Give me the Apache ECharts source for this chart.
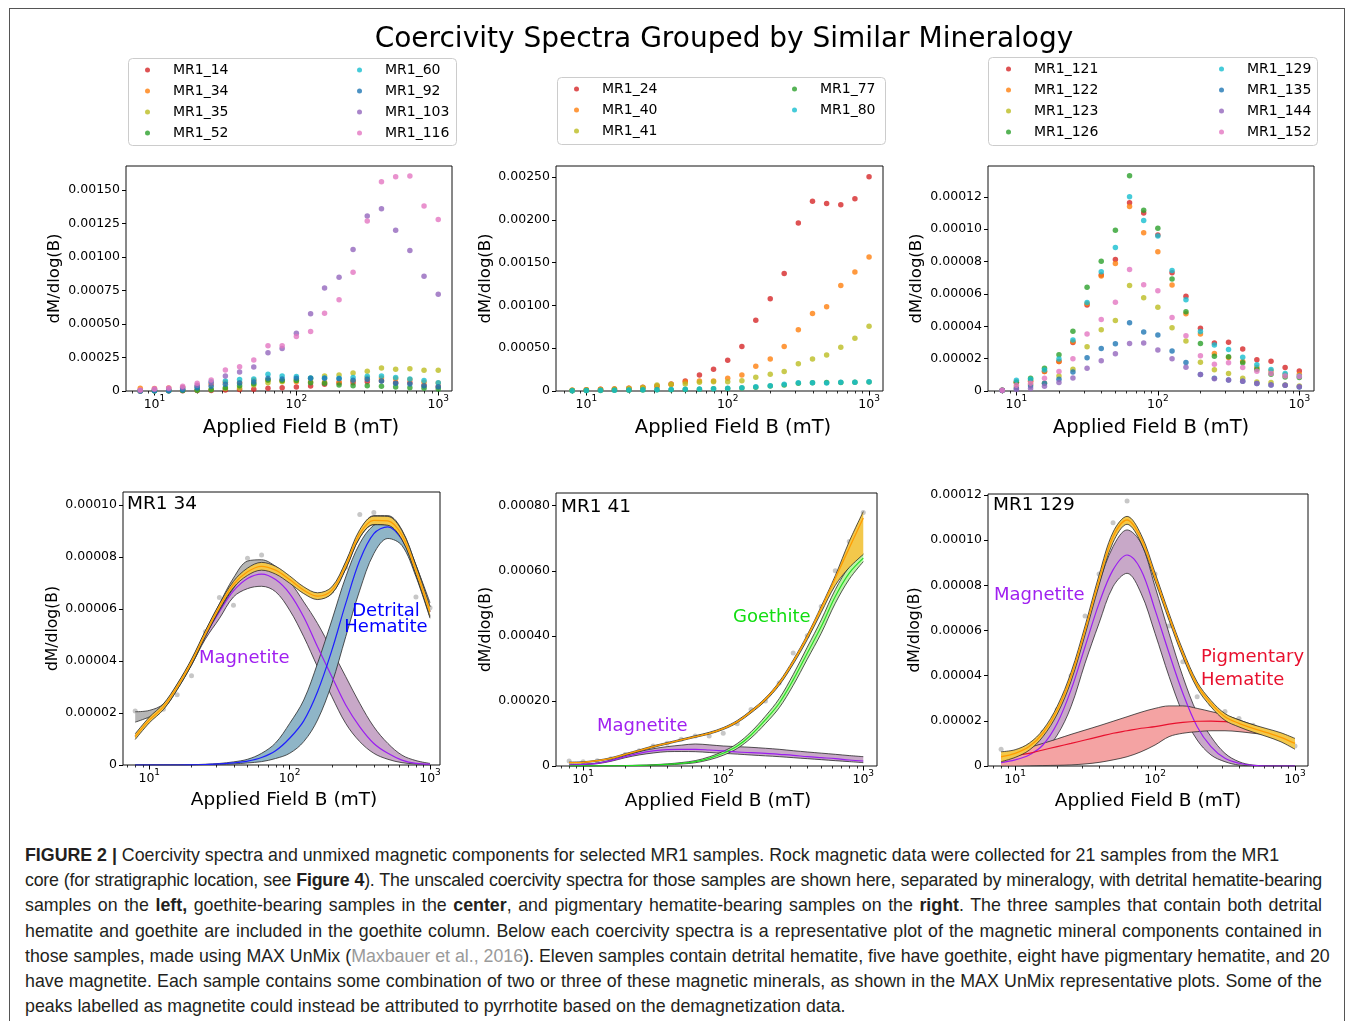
<!DOCTYPE html>
<html>
<head>
<meta charset="utf-8">
<script src="https://cdn.jsdelivr.net/npm/echarts@6/dist/echarts.min.js"></script>
<style>
html,body{margin:0;padding:0;background:#fff;width:1355px;height:1021px;overflow:hidden;}
#frame{position:absolute;left:9px;top:8px;width:1336px;height:1100px;border:1px solid #555;border-bottom:none;box-sizing:border-box;}
#chart{position:absolute;left:0;top:0;width:1355px;height:830px;}
#caption{position:absolute;left:25px;top:843px;width:1297px;font-family:"Liberation Sans",Arial,sans-serif;font-size:17.8px;line-height:25.2px;color:#231f20;letter-spacing:0;}
.ln{white-space:nowrap;text-align:justify;text-align-last:justify;}
.tight{letter-spacing:-0.22px;}
.ll{white-space:nowrap;text-align:left;}
.gr{color:#9a9a9a;}
</style>
</head>
<body>
<div id="frame"></div>
<div id="chart"></div>
<div id="caption">
<div class="ll"><b>FIGURE 2 |</b> Coercivity spectra and unmixed magnetic components for selected MR1 samples. Rock magnetic data were collected for 21 samples from the MR1</div>
<div class="ln tight">core (for stratigraphic location, see <b>Figure 4</b>). The unscaled coercivity spectra for those samples are shown here, separated by mineralogy, with detrital hematite-bearing</div>
<div class="ln">samples on the <b>left,</b> goethite-bearing samples in the <b>center</b>, and pigmentary hematite-bearing samples on the <b>right</b>. The three samples that contain both detrital</div>
<div class="ln">hematite and goethite are included in the goethite column. Below each coercivity spectra is a representative plot of the magnetic mineral components contained in</div>
<div class="ln">those samples, made using MAX UnMix (<span class="gr">Maxbauer et al., 2016</span>). Eleven samples contain detrital hematite, five have goethite, eight have pigmentary hematite, and 20</div>
<div class="ln">have magnetite. Each sample contains some combination of two or three of these magnetic minerals, as shown in the MAX UnMix representative plots. Some of the</div>
<div class="ll">peaks labelled as magnetite could instead be attributed to pyrrhotite based on the demagnetization data.</div>
</div>
<script>
// ---------- DATA ----------
// applied field steps (mT)
const FIELD = [7.94, 10, 12.6, 15.8, 20, 25.1, 31.6, 39.8, 50.1, 63.1, 79.4, 100, 126, 158, 200, 251, 316, 398, 501, 631, 794, 1000];

// top-left: detrital hematite-bearing samples
const MR1_14  = [0.5e-6,1e-6,1.5e-6,2e-6,3e-6,4e-6,8e-6,11e-6,14e-6,20e-6,24e-6,30e-6,38e-6,50e-6,60e-6,62e-6,70e-6,77e-6,62e-6,62e-6,40e-6,32e-6];
const MR1_34  = [20.8e-6,18e-6,21.5e-6,27e-6,34.4e-6,51.3e-6,64.5e-6,61.5e-6,79.6e-6,80.8e-6,74e-6,70e-6,67e-6,65e-6,67e-6,76e-6,96.4e-6,97.2e-6,91.7e-6,86e-6,64.7e-6,60.5e-6];
const MR1_35  = [0.5e-6,2e-6,3e-6,5e-6,8e-6,12e-6,18e-6,22e-6,45e-6,62e-6,70e-6,82e-6,95e-6,112e-6,120e-6,135e-6,147e-6,172e-6,162e-6,167e-6,155e-6,155e-6];
const MR1_52  = [0.3e-6,1e-6,2e-6,3e-6,5e-6,10e-6,25e-6,40e-6,55e-6,82e-6,78e-6,78e-6,62e-6,57e-6,45e-6,40e-6,40e-6,35e-6,30e-6,25e-6,20e-6,15e-6];
const MR1_60  = [0.5e-6,2e-6,3e-6,15e-6,32e-6,70e-6,75e-6,85e-6,90e-6,125e-6,112e-6,108e-6,98e-6,98e-6,95e-6,100e-6,110e-6,112e-6,100e-6,90e-6,78e-6,62e-6];
const MR1_92  = [0.3e-6,1e-6,2e-6,8e-6,22e-6,35e-6,50e-6,60e-6,68e-6,95e-6,90e-6,95e-6,95e-6,95e-6,92e-6,80e-6,88e-6,75e-6,58e-6,52e-6,40e-6,32e-6];
const MR1_103 = [2.5e-6,12.5e-6,17.5e-6,25e-6,42.5e-6,62.5e-6,112e-6,142e-6,180e-6,285e-6,317e-6,432e-6,577e-6,770e-6,850e-6,1057e-6,1307e-6,1360e-6,1200e-6,1050e-6,857e-6,722e-6];
const MR1_116 = [7.5e-6,17.5e-6,22.5e-6,35e-6,57.5e-6,82.5e-6,157e-6,182e-6,232e-6,337e-6,337e-6,407e-6,445e-6,580e-6,682e-6,887e-6,1270e-6,1562e-6,1600e-6,1605e-6,1382e-6,1280e-6];

// top-middle: goethite-bearing samples
const MR1_24 = [8e-6,16e-6,19e-6,23e-6,31e-6,43e-6,58e-6,82e-6,117e-6,187e-6,253e-6,358e-6,521e-6,825e-6,1078e-6,1373e-6,1961e-6,2217e-6,2190e-6,2175e-6,2245e-6,2501e-6];
const MR1_40 = [8e-6,16e-6,19e-6,23e-6,31e-6,40e-6,55e-6,75e-6,105e-6,117e-6,117e-6,148e-6,187e-6,288e-6,373e-6,521e-6,716e-6,906e-6,984e-6,1233e-6,1389e-6,1564e-6];
const MR1_41 = [8e-6,12e-6,15e-6,20e-6,30e-6,40e-6,70e-6,78e-6,82e-6,101e-6,109e-6,109e-6,121e-6,160e-6,195e-6,229e-6,318e-6,373e-6,420e-6,510e-6,615e-6,755e-6];
const MR1_77 = [3e-6,5e-6,6e-6,8e-6,10e-6,12e-6,14e-6,16e-6,18e-6,21e-6,25e-6,30e-6,36e-6,45e-6,58e-6,70e-6,90e-6,95e-6,98e-6,100e-6,103e-6,105e-6];
const MR1_80 = [4e-6,6e-6,8e-6,10e-6,12e-6,14e-6,16e-6,18e-6,20e-6,23e-6,27e-6,31e-6,39e-6,51e-6,62e-6,78e-6,97e-6,97e-6,93e-6,101e-6,101e-6,109e-6];

// top-right: pigmentary hematite-bearing samples
const MR1_121 = [0.5e-6,5.6e-6,6.2e-6,12.0e-6,18.2e-6,29.9e-6,53.1e-6,71.7e-6,81.3e-6,116.3e-6,109.9e-6,96.4e-6,73.0e-6,58.5e-6,38.8e-6,29.6e-6,30.1e-6,25.9e-6,19.3e-6,18.4e-6,14.5e-6,12.4e-6];
const MR1_122 = [0.5e-6,5.2e-6,6.0e-6,12.0e-6,18.2e-6,30.5e-6,53.9e-6,71.0e-6,78.8e-6,114.0e-6,97.8e-6,86.0e-6,65.5e-6,47.7e-6,35.2e-6,23.2e-6,20.7e-6,18.2e-6,14.5e-6,12.4e-6,10.0e-6,10.4e-6];
const MR1_123 = [0.3e-6,2.5e-6,4.0e-6,4.8e-6,9.3e-6,13.5e-6,27.4e-6,37.9e-6,43.5e-6,65.1e-6,57.6e-6,51.8e-6,39.0e-6,30.9e-6,17.8e-6,13.1e-6,10.8e-6,7.9e-6,5.6e-6,5.2e-6,3.7e-6,3.1e-6];
const MR1_126 = [0.5e-6,5.2e-6,7.9e-6,14.1e-6,22.4e-6,36.9e-6,64.1e-6,80.2e-6,99.3e-6,132.9e-6,111.7e-6,100.5e-6,69.2e-6,48.9e-6,29.4e-6,21.4e-6,21.1e-6,17.4e-6,13.5e-6,10.4e-6,8.7e-6,8.3e-6];
const MR1_129 = [0.5e-6,6.6e-6,7.3e-6,12.9e-6,19.7e-6,31.5e-6,54.7e-6,73.6e-6,88.7e-6,120.0e-6,105.3e-6,95.8e-6,74.4e-6,56.4e-6,36.7e-6,28.4e-6,25.7e-6,20.9e-6,16.2e-6,13.3e-6,10.8e-6,9.3e-6];
const MR1_135 = [0.3e-6,1.5e-6,3.1e-6,4.8e-6,7.3e-6,11.8e-6,20.5e-6,26.3e-6,29.2e-6,42.1e-6,36.5e-6,34.6e-6,24.7e-6,17.6e-6,10.2e-6,7.9e-6,6.8e-6,6.0e-6,4.6e-6,3.7e-6,3.5e-6,2.5e-6];
const MR1_144 = [0.3e-6,1.0e-6,1.5e-6,2.9e-6,5.2e-6,8.1e-6,14.1e-6,18.7e-6,23.0e-6,29.4e-6,29.6e-6,25.3e-6,19.9e-6,14.7e-6,10.2e-6,7.5e-6,6.8e-6,6.0e-6,4.6e-6,3.7e-6,3.5e-6,2.7e-6];
const MR1_152 = [0.5e-6,3.5e-6,4.8e-6,7.9e-6,12.0e-6,19.9e-6,35.2e-6,44.2e-6,54.9e-6,75.0e-6,65.7e-6,62.0e-6,45.4e-6,34.2e-6,21.8e-6,16.6e-6,17.4e-6,14.5e-6,12.2e-6,10.8e-6,9.3e-6,8.9e-6];

// bottom-left: MAX UnMix of MR1 34
const U34_TOTAL    = [10.9e-6,17.3e-6,22.4e-6,30.1e-6,39.7e-6,50.6e-6,60.9e-6,69.5e-6,74.4e-6,76.5e-6,75.0e-6,71.4e-6,67.3e-6,65.0e-6,67.3e-6,76.9e-6,89.1e-6,94.2e-6,94.0e-6,88.5e-6,75.0e-6,59.0e-6];
const U34_TOTAL_HI = [12.0e-6,18.4e-6,23.5e-6,31.2e-6,40.8e-6,51.7e-6,62.0e-6,70.7e-6,75.8e-6,78.0e-6,76.5e-6,72.8e-6,68.6e-6,66.3e-6,68.6e-6,78.3e-6,90.6e-6,95.8e-6,95.7e-6,90.2e-6,76.8e-6,61.0e-6];
const U34_TOTAL_LO = [9.8e-6,16.2e-6,21.3e-6,29.0e-6,38.6e-6,49.5e-6,59.8e-6,68.3e-6,73.0e-6,75.0e-6,73.5e-6,70.0e-6,66.0e-6,63.7e-6,66.0e-6,75.5e-6,87.6e-6,92.6e-6,92.3e-6,86.8e-6,73.2e-6,57.0e-6];
const U34_DATA_HI  = [20.5e-6,21.0e-6,23.5e-6,31.0e-6,40.5e-6,51.5e-6,62.0e-6,72.0e-6,78.5e-6,79.0e-6,76.5e-6,72.0e-6,68.0e-6,66.0e-6,68.0e-6,78.0e-6,90.0e-6,96.0e-6,96.0e-6,90.5e-6,77.0e-6,62.5e-6];
const U34_DATA_LO  = [16.5e-6,18.5e-6,21.5e-6,29.0e-6,38.5e-6,49.5e-6,59.5e-6,68.0e-6,74.0e-6,75.5e-6,74.0e-6,70.5e-6,66.5e-6,64.0e-6,66.0e-6,75.5e-6,87.5e-6,92.5e-6,92.5e-6,87.0e-6,73.5e-6,57.5e-6];
const U34_MAG      = [10.9e-6,17.3e-6,22.4e-6,30.0e-6,39.4e-6,49.8e-6,59.0e-6,67.0e-6,71.8e-6,73.5e-6,71.4e-6,66.0e-6,57.0e-6,45.5e-6,34.0e-6,23.1e-6,14.7e-6,8.3e-6,4.5e-6,1.9e-6,0.6e-6,0.3e-6];
const U34_MAG_HI   = [11.4e-6,17.8e-6,22.9e-6,30.6e-6,40.2e-6,51.0e-6,61.5e-6,70.2e-6,75.0e-6,76.0e-6,74.7e-6,70.5e-6,62.8e-6,54.5e-6,44.2e-6,34.0e-6,23.7e-6,14.7e-6,8.3e-6,3.8e-6,1.7e-6,0.6e-6];
const U34_MAG_LO   = [10.4e-6,16.8e-6,21.9e-6,29.4e-6,38.5e-6,48.5e-6,56.4e-6,64.7e-6,67.9e-6,68.8e-6,66.7e-6,59.6e-6,49.4e-6,37.8e-6,26.3e-6,16.0e-6,9.0e-6,4.5e-6,2.2e-6,0.9e-6,0.4e-6,0.1e-6];
const U34_HEM      = [0,0,0,0,0.05e-6,0.2e-6,0.4e-6,0.8e-6,1.5e-6,2.9e-6,5.5e-6,10.3e-6,17.0e-6,28.2e-6,44.2e-6,62.2e-6,78.8e-6,89.1e-6,91.7e-6,86.8e-6,75.3e-6,59.0e-6];
const U34_HEM_HI   = [0,0,0,0,0.1e-6,0.3e-6,0.6e-6,1.2e-6,2.2e-6,4.5e-6,8.5e-6,16.0e-6,25.0e-6,39.1e-6,55.8e-6,72.4e-6,85.3e-6,92.3e-6,93.6e-6,88.5e-6,76.9e-6,61.0e-6];
const U34_HEM_LO   = [0,0,0,0,0,0.1e-6,0.2e-6,0.4e-6,0.8e-6,1.3e-6,2.5e-6,4.5e-6,9.0e-6,17.3e-6,31.4e-6,49.4e-6,67.3e-6,81.4e-6,87.2e-6,84.5e-6,72.5e-6,56.5e-6];

// bottom-middle: MAX UnMix of MR1 41
const U41_POINTS   = [15.4e-6,13.3e-6,16.4e-6,22e-6,35e-6,47.2e-6,61.5e-6,70e-6,82e-6,92.3e-6,92.3e-6,100.5e-6,130e-6,174e-6,200e-6,255e-6,347e-6,400e-6,490e-6,600e-6,690e-6,779e-6];
const U41_TOTAL    = [10.3e-6,11.3e-6,16.4e-6,23.6e-6,35.9e-6,47.2e-6,59.5e-6,69.7e-6,80.0e-6,90.3e-6,100.5e-6,114.9e-6,136.4e-6,167.2e-6,205.1e-6,254.3e-6,321.0e-6,398.0e-6,485.0e-6,577.0e-6,670.0e-6,762.0e-6];
const U41_TOTAL_HI = [12e-6,13e-6,18e-6,25.5e-6,38e-6,49.5e-6,62e-6,72e-6,82.5e-6,93e-6,103.5e-6,118e-6,140e-6,171e-6,209e-6,259e-6,326e-6,403e-6,491e-6,585e-6,690e-6,782e-6];
const U41_TOTAL_LO = [9e-6,10e-6,15e-6,22e-6,34e-6,45e-6,57e-6,67.5e-6,77.5e-6,88e-6,98e-6,112e-6,133e-6,163e-6,200e-6,248e-6,313e-6,388e-6,472e-6,555e-6,610e-6,650e-6];
const U41_GOE      = [0,0.2e-6,0.4e-6,0.6e-6,1.0e-6,1.8e-6,3.0e-6,5.0e-6,8.2e-6,13.3e-6,23.6e-6,39.0e-6,61.5e-6,95.4e-6,141.5e-6,192.8e-6,264.6e-6,346.7e-6,428.7e-6,521.0e-6,592.8e-6,639.0e-6];
const U41_GOE_HI   = [0,0.3e-6,0.6e-6,1e-6,1.5e-6,2.5e-6,4e-6,6.5e-6,10.5e-6,16.5e-6,28e-6,45e-6,69e-6,105e-6,153e-6,207e-6,281e-6,365e-6,449e-6,542e-6,612e-6,652e-6];
const U41_GOE_LO   = [0,0.1e-6,0.2e-6,0.3e-6,0.6e-6,1.2e-6,2e-6,3.6e-6,6e-6,10e-6,19e-6,33e-6,54e-6,86e-6,130e-6,179e-6,248e-6,328e-6,408e-6,500e-6,574e-6,628e-6];
const U41_MAG      = [3.0e-6,5.0e-6,8.2e-6,16.4e-6,28.7e-6,39.0e-6,46.2e-6,50.3e-6,51.3e-6,51.3e-6,49.2e-6,46.2e-6,43.1e-6,41.0e-6,39.0e-6,35.9e-6,32.8e-6,28.7e-6,25.6e-6,22.6e-6,18.5e-6,15.4e-6];
const U41_MAG_HI   = [3.5e-6,5.8e-6,9.5e-6,18.5e-6,32e-6,44e-6,53e-6,59.5e-6,64e-6,67.7e-6,65e-6,61.5e-6,59.5e-6,57.4e-6,54.5e-6,51.3e-6,47e-6,43.1e-6,39.5e-6,35.9e-6,32e-6,28.7e-6];
const U41_MAG_LO   = [2.5e-6,4.2e-6,7e-6,14.5e-6,25.5e-6,34e-6,40e-6,44.1e-6,44.5e-6,44.1e-6,41.5e-6,39e-6,36.5e-6,33.8e-6,31.2e-6,28.7e-6,25.6e-6,22.6e-6,19.5e-6,16.4e-6,13.5e-6,10.3e-6];

// bottom-right: MAX UnMix of MR1 129
const U129_POINTS   = [7.4e-6,6e-6,9e-6,15e-6,25e-6,40e-6,66.4e-6,85e-6,107.7e-6,117.3e-6,100e-6,85e-6,62e-6,46.2e-6,30.7e-6,27.3e-6,24.1e-6,21e-6,18e-6,15e-6,12e-6,8.9e-6];
const U129_TOTAL    = [4.1e-6,5.6e-6,8.6e-6,14.5e-6,24.8e-6,39.6e-6,60.2e-6,82.4e-6,101.5e-6,108.9e-6,100.8e-6,83.8e-6,66.1e-6,49.9e-6,35.9e-6,27.7e-6,21.8e-6,18.9e-6,16.7e-6,14.8e-6,12.7e-6,10.0e-6];
const U129_TOTAL_HI = [6.3e-6,7.2e-6,10.1e-6,16.0e-6,26.5e-6,41.5e-6,62.0e-6,84.5e-6,103.5e-6,110.5e-6,102.5e-6,85.5e-6,67.5e-6,51.3e-6,37.2e-6,29.0e-6,23.2e-6,20.4e-6,18.3e-6,16.5e-6,14.7e-6,12.2e-6];
const U129_TOTAL_LO = [1.9e-6,3.8e-6,7.0e-6,13.0e-6,23.0e-6,37.5e-6,58.0e-6,80.0e-6,99.0e-6,107.0e-6,98.8e-6,81.8e-6,64.4e-6,48.3e-6,34.4e-6,26.2e-6,20.2e-6,17.3e-6,15.0e-6,13.0e-6,10.7e-6,7.4e-6];
const U129_MAG      = [1.5e-6,2.7e-6,4.9e-6,9.3e-6,18.9e-6,33.7e-6,52.8e-6,72.0e-6,86.8e-6,93.4e-6,86.8e-6,69.1e-6,49.9e-6,32.2e-6,17.4e-6,8.6e-6,3.4e-6,1.2e-6,0.3e-6,0,0,0];
const U129_MAG_HI   = [2.0e-6,4.0e-6,7.0e-6,13.7e-6,24.8e-6,40.3e-6,60.2e-6,80.9e-6,97.1e-6,104.5e-6,98.6e-6,79.4e-6,58.7e-6,39.6e-6,23.3e-6,13.0e-6,5.6e-6,1.9e-6,0.4e-6,0.1e-6,0,0];
const U129_MAG_LO   = [1.0e-6,1.9e-6,3.5e-6,6.3e-6,13.7e-6,26.3e-6,45.5e-6,63.2e-6,79.4e-6,85.3e-6,76.5e-6,58.7e-6,39.6e-6,23.3e-6,11.5e-6,4.9e-6,1.9e-6,0.4e-6,0.1e-6,0,0,0];
const U129_HEM      = [3.4e-6,4.6e-6,5.6e-6,7.1e-6,8.6e-6,10.0e-6,11.5e-6,13.0e-6,14.5e-6,15.6e-6,16.7e-6,17.4e-6,18.5e-6,19.3e-6,19.8e-6,19.9e-6,19.6e-6,18.9e-6,16.7e-6,14.8e-6,12.7e-6,10.0e-6];
const U129_HEM_HI   = [4.9e-6,6.5e-6,8.2e-6,10.0e-6,12.0e-6,14.0e-6,15.9e-6,17.8e-6,19.8e-6,21.8e-6,23.8e-6,25.5e-6,26.6e-6,26.6e-6,25.5e-6,24.1e-6,22.6e-6,20.4e-6,18.2e-6,15.9e-6,13.5e-6,11.0e-6];
const U129_HEM_LO   = [0,0,0.1e-6,0.2e-6,0.3e-6,0.5e-6,0.9e-6,1.6e-6,2.7e-6,4.1e-6,6.3e-6,9.3e-6,13.0e-6,14.5e-6,15.2e-6,15.6e-6,15.6e-6,15.2e-6,14.5e-6,13.7e-6,12.0e-6,9.0e-6];

// tick labels
const X_MAJOR = [10, 100, 1000];
const X_MINOR = [7, 8, 9, 20, 30, 40, 50, 60, 70, 80, 90, 200, 300, 400, 500, 600, 700, 800, 900];
const Y_TICKS = [
  [0, 0.00025, 0.0005, 0.00075, 0.001, 0.00125, 0.0015],
  [0, 0.0005, 0.001, 0.0015, 0.002, 0.0025],
  [0, 0.00002, 0.00004, 0.00006, 0.00008, 0.0001, 0.00012],
  [0, 0.00002, 0.00004, 0.00006, 0.00008, 0.0001],
  [0, 0.0002, 0.0004, 0.0006, 0.0008],
  [0, 0.00002, 0.00004, 0.00006, 0.00008, 0.0001, 0.00012]
];

// ---------- LAYOUT ----------
const FONT = 'DejaVu Sans';
const GRIDS = [
  {left:126, top:166, width:326, height:225},
  {left:556, top:166, width:327, height:225},
  {left:988, top:166, width:326, height:225},
  {left:123, top:492, width:317, height:273},
  {left:556, top:493, width:321, height:273},
  {left:988, top:494, width:320, height:272}
];
const X_RANGE = [[6.3,1250],[6.1,1255],[6.3,1270],[6.5,1178],[6.4,1253],[6.4,1239]];
const Y_MAX = [0.00168, 0.002628, 0.000139, 0.0001051, 0.000839, 0.0001204];
const Y_NAMEGAP = [63, 61, 63, 60, 60, 65];
const X_NAMEGAP = [27, 27, 27, 26, 26, 26];
const X_NAMESIZE = [19.5, 19.5, 19.5, 18.5, 18.5, 18.5];
const X_NAMEPAD = [[0,0,0,24],[0,0,0,27],[0,0,0,0],[0,0,0,5],[0,0,0,3],[0,0,0,0]];
const Y_NAMESIZE = [16.5, 16.5, 16.5, 15.6, 15.6, 15.6];

const xAxes = [], yAxes = [];
GRIDS.forEach((g, i) => {
  xAxes.push({
    type:'log', logBase:10, gridIndex:i, position:'bottom', min:X_RANGE[i][0], max:X_RANGE[i][1],
    axisLine:{show:false}, splitLine:{show:false},
    axisTick:{show:true, inside:false, length:4.5, customValues:X_MAJOR, lineStyle:{color:'#000', width:1}},
    axisLabel:{show:true, customValues:X_MAJOR, margin:3, color:'#000',
      formatter: v => '{b|10}{s|' + Math.round(Math.log10(v)) + '}',
      rich:{
        b:{fontSize:12.5, fontFamily:FONT, color:'#000', lineHeight:17, verticalAlign:'bottom'},
        s:{fontSize:9, fontFamily:FONT, color:'#000', lineHeight:10, verticalAlign:'top'}
      }},
    name:'Applied Field B (mT)', nameLocation:'middle', nameGap:X_NAMEGAP[i],
    nameTextStyle:{fontSize:X_NAMESIZE[i], fontFamily:FONT, color:'#000', padding:X_NAMEPAD[i]}
  });
  xAxes.push({
    type:'log', logBase:10, gridIndex:i, position:'bottom', min:X_RANGE[i][0], max:X_RANGE[i][1],
    axisLine:{show:false}, splitLine:{show:false}, axisLabel:{show:false},
    axisTick:{show:true, inside:false, length:2.5, customValues:X_MINOR, lineStyle:{color:'#000', width:0.8}}
  });
  yAxes.push({
    type:'value', gridIndex:i, min:0, max:Y_MAX[i],
    axisLine:{show:false}, splitLine:{show:false},
    axisTick:{show:true, length:4, customValues:Y_TICKS[i], lineStyle:{color:'#000', width:1}},
    axisLabel:{customValues:Y_TICKS[i], margin:6, fontSize:12.5, fontFamily:FONT, color:'#000',
      formatter: v => (Math.abs(v) < 1e-12 ? '0' : v.toFixed(5))},
    name:'dM/dlog(B)', nameLocation:'middle', nameGap:Y_NAMEGAP[i], nameRotate:90,
    nameTextStyle:{fontSize:Y_NAMESIZE[i], fontFamily:FONT, color:'#000'}
  });
});

// ---------- SERIES BUILDERS ----------
const pairs = vals => FIELD.map((x, k) => [x, vals[k]]);
// value-first pairs so that stacking acts on the y value (x is a log value axis)
const vpairs = vals => FIELD.map((x, k) => [vals[k], x]);

function scatter(gi, name, color, vals) {
  return {type:'scatter', name, xAxisIndex:gi*2, yAxisIndex:gi, data:pairs(vals),
    symbol:'circle', symbolSize:5.5, itemStyle:{color}, z:3, silent:true};
}
function points(gi, vals) {
  return {type:'scatter', xAxisIndex:gi*2, yAxisIndex:gi, data:pairs(vals),
    symbol:'circle', symbolSize:5, itemStyle:{color:'#b9b9b9'}, z:1, silent:true};
}
function band(gi, id, lo, hi, fill, z) {
  const diff = hi.map((h, k) => h - lo[k]);
  const common = {type:'line', xAxisIndex:gi*2, yAxisIndex:gi, stack:id, stackStrategy:'all',
    encode:{x:1, y:0}, smooth:0.35, symbol:'none', silent:true};
  return [
    Object.assign({}, common, {data:vpairs(lo), lineStyle:{color:'#2a2a2a', width:0.8}, z:z+1}),
    Object.assign({}, common, {data:vpairs(diff), lineStyle:{color:'#2a2a2a', width:0.8},
      areaStyle:{color:fill, opacity:1}, z:z})
  ];
}
function curve(gi, vals, color, width, z) {
  return {type:'line', xAxisIndex:gi*2, yAxisIndex:gi, data:pairs(vals), smooth:0.35,
    symbol:'none', lineStyle:{color, width}, z, silent:true};
}

const C = {red:'#d62728', orange:'#ff7f0e', olive:'#bcbd22', green:'#2ca02c', cyan:'#17becf',
           blue:'#1f77b4', purple:'#9467bd', pink:'#e377c2'};
const FILL = {mag:'#c8a8c8', hem:'#8fb5c7', goe:'#baf4a6', pig:'#f4a3a3', tot:'#f3c84b', dat:'#b6b6b6'};
const LINE = {mag:'#9b1ef0', hem:'#1f1fff', goe:'#22dd22', pig:'#e8102e', tot:'#ff9c00'};

const series = [
  scatter(0,'MR1_14',C.red,MR1_14), scatter(0,'MR1_34',C.orange,MR1_34), scatter(0,'MR1_35',C.olive,MR1_35),
  scatter(0,'MR1_52',C.green,MR1_52), scatter(0,'MR1_60',C.cyan,MR1_60), scatter(0,'MR1_92',C.blue,MR1_92),
  scatter(0,'MR1_103',C.purple,MR1_103), scatter(0,'MR1_116',C.pink,MR1_116),

  scatter(1,'MR1_24',C.red,MR1_24), scatter(1,'MR1_40',C.orange,MR1_40), scatter(1,'MR1_41',C.olive,MR1_41),
  scatter(1,'MR1_77',C.green,MR1_77), scatter(1,'MR1_80',C.cyan,MR1_80),

  scatter(2,'MR1_121',C.red,MR1_121), scatter(2,'MR1_122',C.orange,MR1_122), scatter(2,'MR1_123',C.olive,MR1_123),
  scatter(2,'MR1_126',C.green,MR1_126), scatter(2,'MR1_129',C.cyan,MR1_129), scatter(2,'MR1_135',C.blue,MR1_135),
  scatter(2,'MR1_144',C.purple,MR1_144), scatter(2,'MR1_152',C.pink,MR1_152),

  // MR1 34 unmixing
  points(3, MR1_34),
  ...band(3,'m34',U34_MAG_LO,U34_MAG_HI,FILL.mag,2),
  ...band(3,'h34',U34_HEM_LO,U34_HEM_HI,FILL.hem,4),
  curve(3,U34_MAG,LINE.mag,1.2,6),
  curve(3,U34_HEM,LINE.hem,1.2,6),
  ...band(3,'d34',U34_DATA_LO,U34_DATA_HI,FILL.dat,8),
  ...band(3,'t34',U34_TOTAL_LO,U34_TOTAL_HI,FILL.tot,10),
  curve(3,U34_TOTAL,LINE.tot,1.3,12),

  // MR1 41 unmixing
  points(4, U41_POINTS),
  ...band(4,'m41',U41_MAG_LO,U41_MAG_HI,FILL.mag,2),
  ...band(4,'g41',U41_GOE_LO,U41_GOE_HI,FILL.goe,4),
  curve(4,U41_MAG,LINE.mag,1.2,6),
  curve(4,U41_GOE,LINE.goe,1.2,6),
  ...band(4,'t41',U41_TOTAL_LO,U41_TOTAL_HI,FILL.tot,10),
  curve(4,U41_TOTAL,LINE.tot,1.3,12),

  // MR1 129 unmixing
  points(5, U129_POINTS),
  ...band(5,'m129',U129_MAG_LO,U129_MAG_HI,FILL.mag,2),
  ...band(5,'p129',U129_HEM_LO,U129_HEM_HI,FILL.pig,4),
  curve(5,U129_MAG,LINE.mag,1.2,6),
  curve(5,U129_HEM,LINE.pig,1.2,6),
  ...band(5,'t129',U129_TOTAL_LO,U129_TOTAL_HI,FILL.tot,10),
  curve(5,U129_TOTAL,LINE.tot,1.3,12)
];

function legendCol(left, top, data) {
  return {show:true, orient:'vertical', left, top, data, icon:'circle', itemWidth:5, itemHeight:5,
    itemGap:5, padding:0, selectedMode:false, z:5,
    textStyle:{fontSize:14, fontFamily:FONT, color:'#000', lineHeight:16, padding:[0,0,0,18]}};
}

function txt(text, x, y, color, align, size) {
  return {type:'text', z:100, silent:true,
    style:{text, x, y, fill:color, align:align||'left', verticalAlign:'middle',
      textAlign:align||'left', textVerticalAlign:'middle', font:(size||18)+'px "DejaVu Sans"'}};
}
function box(x, y, w, h) {
  return {type:'rect', z:0, silent:true, shape:{x:x+0.5, y:y+0.5, width:w, height:h, r:4},
    style:{fill:'#ffffff', stroke:'#cccccc', lineWidth:1}};
}

const option = {
  animation:false,
  backgroundColor:'transparent',
  textStyle:{fontFamily:FONT},
  grid: GRIDS.map(g => Object.assign({show:true, borderColor:'#111', borderWidth:1,
    backgroundColor:'transparent', containLabel:false, outerBoundsMode:'none'}, g)),
  xAxis: xAxes,
  yAxis: yAxes,
  legend: [
    legendCol(145, 62, ['MR1_14','MR1_34','MR1_35','MR1_52']),
    legendCol(357, 62, ['MR1_60','MR1_92','MR1_103','MR1_116']),
    legendCol(574, 81, ['MR1_24','MR1_40','MR1_41']),
    legendCol(792, 81, ['MR1_77','MR1_80']),
    legendCol(1006, 61, ['MR1_121','MR1_122','MR1_123','MR1_126']),
    legendCol(1219, 61, ['MR1_129','MR1_135','MR1_144','MR1_152'])
  ],
  graphic: [
    box(128, 58, 328, 87), box(557, 77, 328, 67), box(988, 57, 329, 88),
    txt('Coercivity Spectra Grouped by Similar Mineralogy', 724, 40, '#000', 'center', 28),
    txt('MR1 34', 127, 504, '#000', 'left', 18.5),
    txt('MR1 41', 561, 507, '#000', 'left', 18.5),
    txt('MR1 129', 993, 505, '#000', 'left', 18.5),
    txt('Detrital', 386, 611, '#0000ff', 'center', 18),
    txt('Hematite', 386, 627, '#0000ff', 'center', 18),
    txt('Magnetite', 199, 658, '#a020f0', 'left', 18),
    txt('Goethite', 733, 617, '#11dd11', 'left', 18),
    txt('Magnetite', 597, 726, '#a020f0', 'left', 18),
    txt('Magnetite', 994, 595, '#a020f0', 'left', 18),
    txt('Pigmentary', 1201, 657, '#e8102e', 'left', 18),
    txt('Hematite', 1201, 680, '#e8102e', 'left', 18)
  ],
  series
};

const chart = echarts.init(document.getElementById('chart'), null, {renderer:'canvas'});
chart.setOption(option);
</script>
</body>
</html>
